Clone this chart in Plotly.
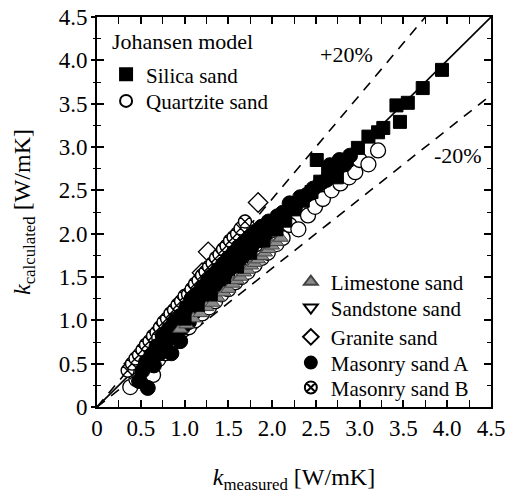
import plotly.graph_objects as go

# ---------------- data ----------------
tick_vals = [0, 0.5, 1.0, 1.5, 2.0, 2.5, 3.0, 3.5, 4.0, 4.5]
tick_text = ["0", "0.5", "1.0", "1.5", "2.0", "2.5", "3.0", "3.5", "4.0", "4.5"]
minor_vals = [0.25, 0.75, 1.25, 1.75, 2.25, 2.75, 3.25, 3.75, 4.25]

silica_x = [1.00, 1.15, 1.30, 1.45, 1.60, 1.75, 1.90, 2.05, 2.15, 2.25, 2.35, 2.45, 2.51, 2.55, 2.64,
            2.74, 2.85, 2.98, 3.10, 3.21, 3.27, 3.42, 3.46, 3.55, 3.72, 3.94]
silica_y = [1.02, 1.18, 1.30, 1.50, 1.62, 1.78, 1.92, 2.05, 2.15, 2.28, 2.38, 2.48, 2.85, 2.60, 2.71,
            2.65, 2.85, 2.99, 3.12, 3.17, 3.22, 3.48, 3.29, 3.51, 3.68, 3.89]

quartz_x = [0.38, 0.45, 0.52, 0.60, 0.64, 0.70, 0.78, 0.85, 0.92, 0.98, 1.05, 1.12, 1.20, 1.28, 1.35,
            1.42, 1.50, 1.58, 1.65, 1.72, 1.80, 1.88, 1.95, 2.05, 2.12, 2.20, 2.30, 2.41, 2.49, 2.58,
            2.68, 2.78, 2.88, 2.95, 3.00, 3.10, 3.21]
quartz_y = [0.23, 0.32, 0.40, 0.48, 0.37, 0.55, 0.62, 0.72, 0.80, 0.89, 0.92, 1.00, 1.08, 1.15, 1.22,
            1.30, 1.36, 1.44, 1.50, 1.56, 1.64, 1.72, 1.78, 1.88, 1.95, 2.10, 2.05, 2.21, 2.31, 2.40,
            2.50, 2.58, 2.65, 2.71, 2.85, 2.80, 2.96]

lime_x = [0.95, 1.02, 1.10, 1.18, 1.25, 1.32, 1.38, 1.45, 1.50, 1.55, 1.60, 1.64, 1.68, 1.72, 1.76,
          1.80, 1.84, 1.88, 1.92, 1.96, 2.00, 2.05, 2.10]
lime_y = [0.90, 0.95, 1.02, 1.08, 1.15, 1.20, 1.26, 1.32, 1.36, 1.42, 1.46, 1.50, 1.55, 1.58, 1.63,
          1.66, 1.70, 1.74, 1.78, 1.82, 1.86, 1.90, 1.95]

sand_x = [0.38, 0.45, 0.50, 0.55, 0.60, 0.66, 0.70, 0.76, 0.80, 0.86, 0.90, 0.96, 1.00, 1.06, 1.10,
          1.16, 1.20, 1.26, 1.30, 1.36, 1.40, 1.46, 1.50, 1.56, 1.62, 1.70, 1.78, 1.85]
sand_y = [0.40, 0.50, 0.58, 0.58, 0.68, 0.74, 0.82, 0.86, 0.94, 0.98, 1.06, 1.06, 1.16, 1.16, 1.28,
          1.28, 1.38, 1.38, 1.50, 1.50, 1.60, 1.60, 1.72, 1.70, 1.80, 1.86, 1.94, 2.02]

granite_x = [0.42, 0.55, 0.68, 0.80, 0.92, 1.05, 1.15, 1.20, 1.27, 1.38, 1.45, 1.50, 1.60, 1.70, 1.84]
granite_y = [0.50, 0.66, 0.82, 0.98, 1.12, 1.30, 1.42, 1.55, 1.79, 1.70, 1.80, 1.86, 1.98, 2.10, 2.36]

masA_x = [0.48, 0.52, 0.58, 0.56, 0.62, 0.65, 0.68, 0.72, 0.75, 0.78, 0.82, 0.85, 0.88, 0.90, 0.95,
          0.95, 0.98, 1.02, 1.05, 1.08, 1.10, 1.14, 1.16, 1.20, 1.22, 1.26, 1.28, 1.32, 1.34, 1.38,
          1.40, 1.44, 1.46, 1.50, 1.52, 1.56, 1.58, 1.62, 1.64, 1.68, 1.70, 1.74, 1.76, 1.80, 1.84,
          1.88, 1.92, 1.96, 2.00, 2.06, 2.12, 2.20, 2.26, 2.32, 2.40, 2.47, 2.55, 2.62, 2.66, 2.72,
          2.77, 2.83, 2.89]
masA_y = [0.30, 0.42, 0.22, 0.52, 0.60, 0.48, 0.70, 0.62, 0.82, 0.72, 0.90, 0.62, 0.98, 0.80, 1.05,
          0.76, 0.92, 1.15, 0.98, 1.25, 1.08, 1.30, 1.15, 1.38, 1.22, 1.45, 1.30, 1.52, 1.38, 1.58,
          1.45, 1.65, 1.52, 1.72, 1.60, 1.78, 1.66, 1.85, 1.72, 1.90, 1.78, 1.96, 1.84, 2.02, 1.92,
          2.08, 2.00, 2.14, 2.06, 2.20, 2.24, 2.35, 2.30, 2.42, 2.45, 2.52, 2.58, 2.62, 2.79, 2.70,
          2.85, 2.80, 2.90]

masB_x = [0.35, 0.40, 0.44, 0.48, 0.52, 0.56, 0.60, 0.64, 0.68, 0.70, 0.72, 0.76, 0.80, 0.84, 0.88,
          0.90, 0.92, 0.96, 1.00, 1.04, 1.08, 1.10, 1.12, 1.16, 1.20, 1.24, 1.28, 1.30, 1.32, 1.36,
          1.40, 1.44, 1.48, 1.50, 1.52, 1.56, 1.60, 1.64, 1.69]
masB_y = [0.42, 0.50, 0.56, 0.60, 0.66, 0.72, 0.76, 0.82, 0.86, 0.80, 0.92, 0.98, 1.02, 1.08, 1.12,
          1.02, 1.18, 1.22, 1.28, 1.30, 1.36, 1.25, 1.42, 1.46, 1.52, 1.56, 1.62, 1.50, 1.66, 1.72,
          1.76, 1.82, 1.86, 1.70, 1.92, 1.96, 2.00, 2.06, 2.14]

diag_x = [0, 4.5]
diag_y = [0, 4.5]
plus_x = [0, 3.75]
plus_y = [0, 4.5]
minus_x = [0, 4.5]
minus_y = [0, 3.6]

# ---------------- figure ----------------
FONT = "Liberation Serif"
fig = go.Figure()

fig.add_trace(go.Scatter(x=diag_x, y=diag_y, mode="lines", line=dict(color="black", width=1.6),
                         showlegend=False, hoverinfo="skip"))
for lx, ly in ((plus_x, plus_y), (minus_x, minus_y)):
    fig.add_trace(go.Scatter(x=lx, y=ly, mode="lines",
                             line=dict(color="black", width=1.6, dash="10px,8px"),
                             showlegend=False, hoverinfo="skip"))

def add(name, x, y, symbol, size, fill, line_col, lw, legend):
    fig.add_trace(go.Scatter(
        x=x, y=y, mode="markers", name=name, legend=legend,
        marker=dict(symbol=symbol, size=size, color=fill,
                    line=dict(color=line_col, width=lw))))

add("Granite sand", granite_x, granite_y, "diamond", 15, "white", "black", 1.3, "legend5")
add("Quartzite sand", quartz_x, quartz_y, "circle", 15, "white", "black", 1.3, "legend2")
add("Sandstone sand", sand_x, sand_y, "triangle-down", 13, "white", "black", 1.2, "legend4")
add("Masonry sand B", masB_x, masB_y, "circle-x", 13, "white", "black", 1.4, "legend7")
add("Masonry sand A", masA_x, masA_y, "circle", 15, "black", "black", 1.0, "legend6")
add("Limestone sand", lime_x, lime_y, "triangle-up", 13, "#8a8a8a", "#444444", 1.0, "legend3")
add("Silica sand", silica_x, silica_y, "square", 13, "black", "black", 1.0, "legend")

fig.add_trace(go.Scatter(x=[None], y=[None], xaxis="x", yaxis="y2", showlegend=False,
                         hoverinfo="skip"))

fig.add_annotation(x=2.85, y=4.07, text="+20%", showarrow=False,
                   font=dict(family=FONT, size=22, color="black"))
fig.add_annotation(x=4.12, y=2.90, text="-20%", showarrow=False,
                   font=dict(family=FONT, size=22, color="black"))
fig.add_annotation(x=0.033, y=0.936, xref="paper", yref="paper", xanchor="left",
                   yanchor="middle", text="Johansen model", showarrow=False,
                   font=dict(family=FONT, size=22, color="black"))

axis_common = dict(range=[0, 4.5], tickvals=tick_vals, ticktext=tick_text,
                   showgrid=False, zeroline=False, showline=True, linecolor="black",
                   linewidth=1.6, ticks="inside", ticklen=7, tickwidth=1.5, tickcolor="black",
                   mirror="allticks", automargin=False,
                   minor=dict(tickvals=minor_vals, ticks="inside",
                              ticklen=4, tickwidth=1.3, tickcolor="black"),
                   tickfont=dict(family=FONT, size=23, color="black"))

legend_style = dict(xanchor="left", yanchor="middle", bgcolor="rgba(0,0,0,0)",
                    itemsizing="constant", font=dict(family=FONT, size=21, color="black"))

fig.update_layout(
    width=518, height=494,
    margin=dict(l=97, r=27, t=17, b=87),
    paper_bgcolor="white", plot_bgcolor="white",
    font=dict(family=FONT, color="black"),
    xaxis=dict(**axis_common,
               title=dict(text="<i>k</i><sub>measured</sub> [W/mK]",
                          font=dict(family=FONT, size=24), standoff=28)),
    yaxis=dict(**axis_common, ticklabelstandoff=3,
               title=dict(text="<i>k</i><sub>calculated</sub> [W/mK]",
                          font=dict(family=FONT, size=24), standoff=21)),
    yaxis2=dict(range=[0, 4.5], overlaying="y", side="left", tickvals=tick_vals,
                showticklabels=False, ticks="outside", ticklen=5, tickwidth=1.5,
                tickcolor="black", showgrid=False, zeroline=False, showline=False,
                automargin=False,
                minor=dict(tickvals=minor_vals, ticks="outside",
                           ticklen=3, tickwidth=1.3, tickcolor="black")),
    legend=dict(x=0.023, y=0.852, **legend_style),
    legend2=dict(x=0.023, y=0.784, **legend_style),
    legend3=dict(x=0.492, y=0.3205, **legend_style),
    legend4=dict(x=0.492, y=0.254, **legend_style),
    legend5=dict(x=0.492, y=0.179, **legend_style),
    legend6=dict(x=0.492, y=0.113, **legend_style),
    legend7=dict(x=0.492, y=0.049, **legend_style),
    showlegend=True,
)

fig.write_html("out.html")
